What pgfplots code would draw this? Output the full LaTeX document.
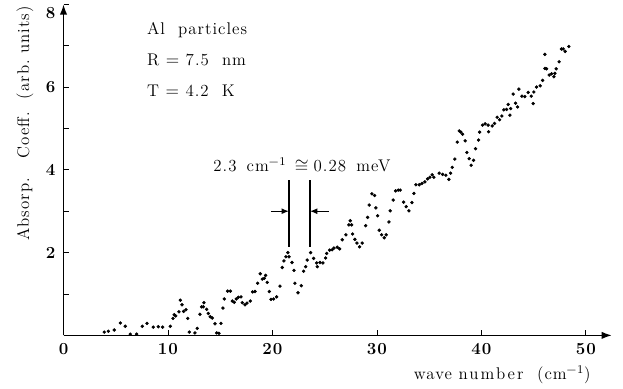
\documentclass[border=0pt]{standalone}
\usepackage{fontspec}
\setmainfont{Latin Modern Roman}[LetterSpace=6]
\usepackage{pgfplots}
\pgfplotsset{compat=1.18}
\usetikzlibrary{arrows.meta}
\pgfplotstableread{
x y
3.90 0.08
4.29 0.10
4.86 0.13
5.44 0.30
5.91 0.22
6.39 0.03
7.00 0.03
7.54 0.22
7.99 0.29
8.59 0.20
9.07 0.21
9.49 0.20
10.22 0.22
10.48 0.41
10.60 0.50
10.74 0.47
11.05 0.57
11.18 0.85
11.34 0.74
11.50 0.58
11.72 0.62
11.89 0.41
12.04 0.08
12.58 0.06
12.80 0.17
13.06 0.51
13.22 0.69
13.38 0.69
13.44 0.79
13.70 0.63
13.86 0.53
14.05 0.45
14.24 0.42
14.50 0.28
14.66 0.06
14.88 0.05
15.07 0.29
15.26 0.66
15.39 0.88
15.71 1.07
15.97 1.07
16.16 0.83
16.35 0.80
16.54 0.88
16.73 0.92
16.99 0.93
17.11 0.79
17.37 0.74
17.56 0.78
17.88 0.83
18.10 1.05
18.33 1.06
18.58 1.26
18.83 1.49
19.03 1.36
19.22 1.38
19.35 1.45
19.50 1.28
19.70 1.06
19.86 0.87
20.11 0.88
20.40 0.93
20.72 1.19
20.94 1.64
21.10 1.80
21.29 1.90
21.48 2.00
21.58 1.90
21.87 1.76
22.06 1.57
22.15 1.26
22.44 1.03
22.76 1.20
22.98 1.55
23.18 1.66
23.33 1.82
23.65 2.00
23.94 1.86
24.23 1.75
24.29 1.66
24.55 1.76
24.83 1.75
25.09 1.87
25.19 1.98
25.47 2.06
25.72 2.07
25.89 2.11
26.20 2.13
26.43 2.09
26.68 2.31
27.03 2.43
27.32 2.67
27.45 2.77
27.58 2.67
27.67 2.45
27.89 2.32
28.09 2.23
28.34 2.14
28.59 2.23
28.92 2.65
29.11 2.85
29.26 3.15
29.52 3.42
29.78 3.38
29.90 3.08
30.07 2.89
30.22 2.54
30.45 2.43
30.70 2.36
30.89 2.43
31.15 2.74
31.27 3.01
31.56 3.27
31.79 3.49
32.04 3.51
32.23 3.51
32.56 3.22
32.80 3.11
33.06 3.01
33.35 3.21
33.54 3.43
33.73 3.64
34.05 3.64
34.31 3.67
34.59 3.71
34.85 3.78
35.07 3.82
35.29 3.88
35.45 3.82
35.96 3.92
36.29 3.89
36.60 3.87
36.89 3.77
37.05 3.92
37.21 4.06
37.46 4.26
37.69 4.67
37.88 4.94
38.04 4.91
38.20 4.86
38.45 4.70
38.61 4.42
38.83 4.27
39.02 4.11
39.25 4.23
39.44 4.51
39.73 4.72
39.83 4.91
40.11 5.08
40.36 5.11
40.65 5.08
40.69 4.92
41.03 5.06
41.26 5.12
41.51 5.27
41.74 5.21
41.96 5.30
42.15 5.45
42.41 5.46
42.57 5.58
42.73 5.32
42.80 5.48
43.04 5.83
43.27 5.61
43.46 5.52
43.59 5.95
43.88 5.78
44.16 5.77
44.48 5.87
44.77 5.78
44.96 5.60
45.02 5.88
45.28 6.00
45.63 6.03
45.86 6.16
46.08 6.79
46.08 6.45
46.24 6.44
46.49 6.29
46.72 6.32
46.94 6.25
47.03 6.33
47.16 6.44
47.44 6.61
47.67 6.92
47.83 6.92
48.02 6.86
48.37 6.98
}\absdata
\begin{document}
\begin{tikzpicture}[font=\fontsize{11.5}{13.5}\selectfont]
\useasboundingbox (-43.2pt,-36.4pt) rectangle (380.5pt,228.1pt);
\begin{axis}[
  at={(0pt,0pt)}, anchor=origin,
  scale only axis,
  width=373pt, height=225.2pt,
  xmin=0, xmax=52.5, ymin=0, ymax=8,
  axis lines=left,
  axis line style={line width=1.1pt, -{Latex[length=7pt,width=5pt]}},
  xtick={0,10,20,30,40,50},
  ytick={2,4,6},
  minor ytick={1,3,5,7},
  extra y ticks={8},
  extra y tick style={tick label style={yshift=-6pt}},
  major tick length=3.5pt, minor tick length=3.5pt,
  tick align=inside,
  tick style={black, line width=0.5pt},
  /pgf/number format/assume math mode=true,
  tick label style={font=\fontsize{11.5}{13}\selectfont\bfseries},
  xticklabel style={yshift=-2pt},
  yticklabel style={xshift=-2pt},
  clip=false,
  xlabel={wave\hspace{0.4em}{\addfontfeature{LetterSpace=12}number}\hspace{0.8em}(cm\textsuperscript{−1})},
  ylabel={Absorp.\ \ \ Coeff.\ \ (arb.\ units)},
  every axis x label/.style={at={(axis description cs:0.80,0)}, yshift=-26.9pt, anchor=center},
  every axis y label/.style={at={(axis description cs:0,0.64)}, xshift=-26.2pt, rotate=90, anchor=center},
]
\addplot[only marks, mark=*, mark size=0.95pt, black] table[x=x,y=y] {\absdata};
\draw[line width=1pt] (axis cs:21.58,2.14) -- (axis cs:21.58,3.76);
\draw[line width=1pt] (axis cs:23.59,2.14) -- (axis cs:23.59,3.76);
\draw[line width=0.8pt, -{Latex[length=5pt,width=4pt]}] (axis cs:19.86,3.0) -- (axis cs:21.58,3.0);
\draw[line width=0.8pt, -{Latex[length=5pt,width=4pt]}] (axis cs:25.4,3.0) -- (axis cs:23.59,3.0);
\node at (axis cs:22.82,4.12) {2.3\hspace{0.6em}cm\textsuperscript{−1}\hspace{0.5em}$\cong$\hspace{0.3em}0.28\hspace{0.6em}meV};
\node[anchor=west] at (axis cs:7.5,7.38) {Al\ \ particles};
\node[anchor=west] at (axis cs:7.5,6.65) {R $=$ 7.5\ \ nm};
\node[anchor=west] at (axis cs:7.5,5.90) {T $=$ 4.2\ \ K};
\end{axis}
\end{tikzpicture}
\end{document}
